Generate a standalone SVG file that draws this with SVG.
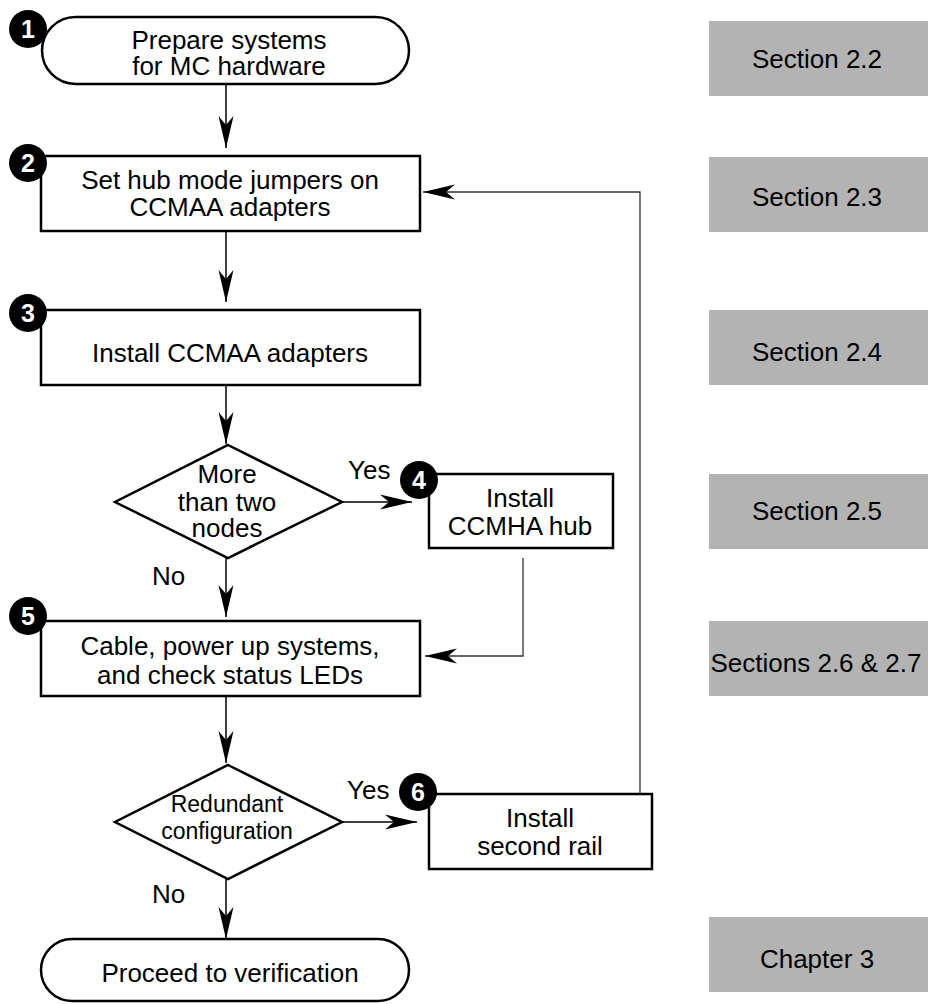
<svg xmlns="http://www.w3.org/2000/svg" width="928" height="1004" viewBox="0 0 928 1004">
<style>
  .box { fill: #ffffff; stroke: #000000; stroke-width: 2.5; }
  .t { font-family: "Liberation Sans", Arial, sans-serif; font-size: 26px; fill: #000000; text-anchor: middle; }
  .ts { font-size: 23px; }
  .lbl { font-family: "Liberation Sans", Arial, sans-serif; font-size: 26px; fill: #000000; }
  .num { fill: #000000; }
  .numt { font-family: "Liberation Sans", Arial, sans-serif; font-size: 25px; font-weight: bold; fill: #ffffff; text-anchor: middle; }
  .ref { fill: #b3b3b3; }
  .conn { fill: none; stroke: #000000; stroke-width: 1.5; }
  .fb { fill: none; stroke: #333333; stroke-width: 1.3; }
</style>
<defs>
  <marker id="arrow" markerUnits="userSpaceOnUse" viewBox="-34 -9 36 18" markerWidth="36" markerHeight="18" refX="0" refY="0" orient="auto">
    <path d="M0,0 L-32,-7.5 L-23,0 L-32,7.5 Z" fill="#000000"/>
  </marker>
</defs>
<rect width="928" height="1004" fill="#ffffff"/>

<g id="connectors">
  <path class="conn" d="M226,84 L226,148" marker-end="url(#arrow)"/>
  <path class="conn" d="M226,231 L226,302" marker-end="url(#arrow)"/>
  <path class="conn" d="M226,385 L226,444" marker-end="url(#arrow)"/>
  <path class="conn" d="M342,502 L412,502" marker-end="url(#arrow)"/>
  <path class="conn" d="M226,558 L226,617" marker-end="url(#arrow)"/>
  <path class="fb" d="M523,558 L523,656 L425,656" marker-end="url(#arrow)"/>
  <path class="conn" d="M226,696 L226,763" marker-end="url(#arrow)"/>
  <path class="conn" d="M342,822 L417,822" marker-end="url(#arrow)"/>
  <path class="conn" d="M226,879 L226,939" marker-end="url(#arrow)"/>
  <path class="fb" d="M640,794 L640,192 L423,192" marker-end="url(#arrow)"/>
  <text class="lbl" x="348" y="479">Yes</text>
  <text class="lbl" x="152" y="585">No</text>
  <text class="lbl" x="347" y="799">Yes</text>
  <text class="lbl" x="152" y="903">No</text>
</g>

<g id="node1">
  <rect class="box" x="42" y="17" width="367" height="67" rx="33.5" ry="33.5"/>
  <text class="t" x="229" y="49">Prepare systems</text>
  <text class="t" x="229" y="75">for MC hardware</text>
  <circle class="num" cx="28" cy="29" r="19"/>
  <text class="numt" x="28" y="38">1</text>
</g>

<g id="node2">
  <rect class="box" x="41" y="156" width="379" height="75"/>
  <text class="t" x="230" y="189">Set hub mode jumpers on</text>
  <text class="t" x="230" y="216">CCMAA adapters</text>
  <circle class="num" cx="28" cy="163" r="19"/>
  <text class="numt" x="28" y="172">2</text>
</g>

<g id="node3">
  <rect class="box" x="41" y="310" width="379" height="75"/>
  <text class="t" x="230" y="362">Install CCMAA adapters</text>
  <circle class="num" cx="28" cy="313" r="19"/>
  <text class="numt" x="28" y="322">3</text>
</g>

<g id="decision1">
  <polygon class="box" points="228,445 342,502 228,558 115,502"/>
  <text class="t" x="227" y="483">More</text>
  <text class="t" x="227" y="511">than two</text>
  <text class="t" x="227" y="537">nodes</text>
</g>

<g id="node4">
  <rect class="box" x="429" y="474" width="184" height="74"/>
  <text class="t" x="520" y="507">Install</text>
  <text class="t" x="520" y="535">CCMHA hub</text>
  <circle class="num" cx="419" cy="480" r="19"/>
  <text class="numt" x="419" y="489">4</text>
</g>

<g id="node5">
  <rect class="box" x="41" y="621" width="379" height="75"/>
  <text class="t" x="230" y="655">Cable, power up systems,</text>
  <text class="t" x="230" y="684">and check status LEDs</text>
  <circle class="num" cx="28" cy="616" r="19"/>
  <text class="numt" x="28" y="625">5</text>
</g>

<g id="decision2">
  <polygon class="box" points="228,765 342,822 228,879 115,822"/>
  <text class="t ts" x="227" y="812">Redundant</text>
  <text class="t ts" x="227" y="839">configuration</text>
</g>

<g id="node6">
  <rect class="box" x="429" y="794" width="223" height="75"/>
  <text class="t" x="540" y="827">Install</text>
  <text class="t" x="540" y="855">second rail</text>
  <circle class="num" cx="418" cy="792" r="19"/>
  <text class="numt" x="418" y="801">6</text>
</g>

<g id="node7">
  <rect class="box" x="41" y="939" width="368" height="62" rx="31" ry="31"/>
  <text class="t" x="230" y="982">Proceed to verification</text>
</g>

<g id="ref-2-2">
  <rect class="ref" x="709" y="21" width="219" height="75"/>
  <text class="t" x="817" y="68">Section 2.2</text>
</g>
<g id="ref-2-3">
  <rect class="ref" x="709" y="157" width="219" height="75"/>
  <text class="t" x="817" y="206">Section 2.3</text>
</g>
<g id="ref-2-4">
  <rect class="ref" x="709" y="310" width="219" height="75"/>
  <text class="t" x="817" y="361">Section 2.4</text>
</g>
<g id="ref-2-5">
  <rect class="ref" x="709" y="474" width="219" height="75"/>
  <text class="t" x="817" y="520">Section 2.5</text>
</g>
<g id="ref-2-6">
  <rect class="ref" x="709" y="621" width="219" height="75"/>
  <text class="t" x="816" y="672">Sections 2.6 &amp; 2.7</text>
</g>
<g id="ref-ch3">
  <rect class="ref" x="709" y="917" width="219" height="75"/>
  <text class="t" x="817" y="968">Chapter 3</text>
</g>
</svg>
